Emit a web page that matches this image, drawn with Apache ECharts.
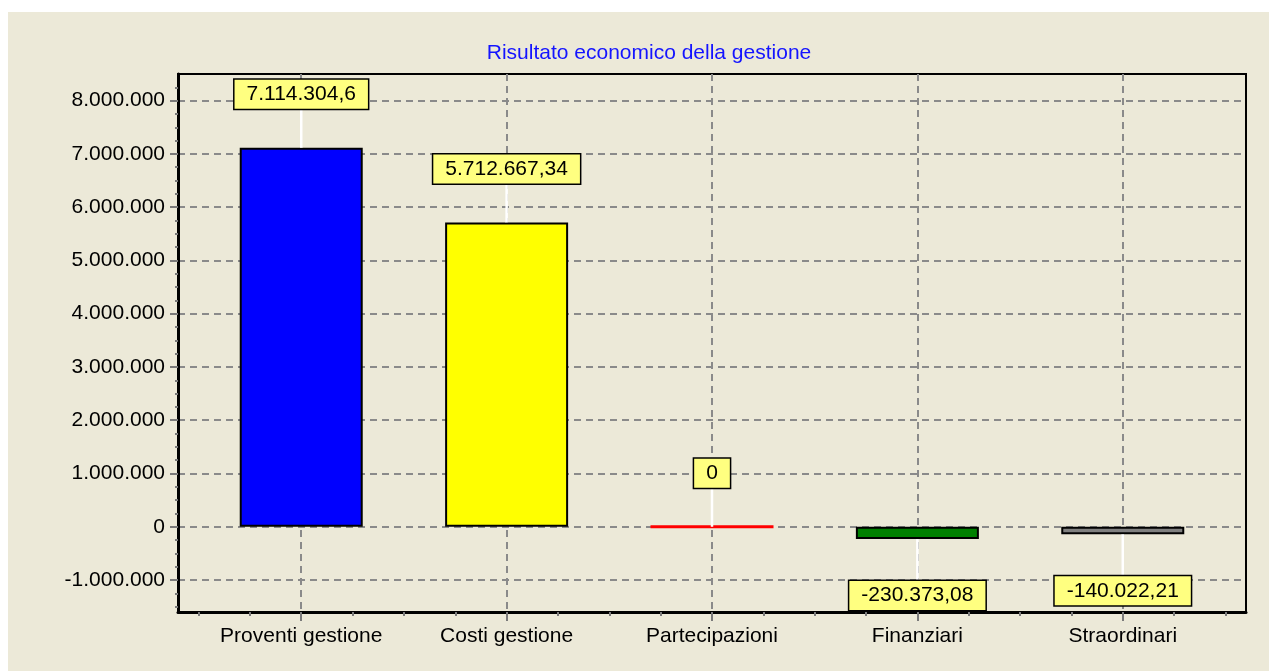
<!DOCTYPE html>
<html>
<head>
<meta charset="utf-8">
<title>Risultato economico della gestione</title>
<script src="https://cdn.jsdelivr.net/npm/echarts@6/dist/echarts.min.js"></script>
<style>
  html, body { margin: 0; padding: 0; background: #ffffff; width: 1269px; height: 671px; overflow: hidden; }
  #panel { position: absolute; left: 8px; top: 12px; right: 0; bottom: 0; background: #ECE9D8; }
  #chart { position: absolute; left: 0; top: 0; width: 1269px; height: 671px; }
</style>
</head>
<body>
<div id="panel"></div>
<div id="chart"></div>
<script>
// ---- data ----
const titleText = 'Risultato economico della gestione';
const categories = ['Proventi gestione', 'Costi gestione', 'Partecipazioni', 'Finanziari', 'Straordinari'];
const values = [7114304.6, 5712667.34, 0, -230373.08, -140022.21];
const barColors = ['#0000ff', '#ffff00', '#ff0000', '#008000', '#808080'];
const yTicks = [-1000000, 0, 1000000, 2000000, 3000000, 4000000, 5000000, 6000000, 7000000, 8000000];
const xTicks = [0, 1, 2, 3, 4];

// ---- axis ranges ----
const Y_MIN = -1600000, Y_MAX = 8500000, Y_MINOR = 250000;
const X_MIN = -0.6, X_MAX = 4.6, X_MINOR = 0.25;

// minor tick positions (quarters between the major ticks)
function minorTicks(min, max, step, majors) {
  const out = [];
  const start = Math.ceil(min / step) * step;
  for (let v = start; v <= max + 1e-9; v += step) {
    const r = Math.round(v / step) * step;
    if (!majors.some(m => Math.abs(m - r) < step / 10)) out.push(r);
  }
  return out;
}
const yMinor = minorTicks(Y_MIN, Y_MAX - 1, Y_MINOR, yTicks);
const xMinor = minorTicks(X_MIN, X_MAX, X_MINOR, xTicks);

// Italian number format: "." for thousands, "," for decimals
function fmtIt(v) {
  const neg = v < 0;
  const parts = Math.abs(v).toFixed(2).split('.');
  const intPart = parts[0].replace(/\B(?=(\d{3})+(?!\d))/g, '.');
  const dec = parts[1].replace(/0+$/, '');
  return (neg ? '-' : '') + intPart + (dec ? ',' + dec : '');
}

const FONT = '"Liberation Sans", Arial, sans-serif';
const gridLine = { show: true, lineStyle: { type: [7, 5], color: '#8a8a8a', width: 2 } };

const chart = echarts.init(document.getElementById('chart'), null, { renderer: 'canvas' });

chart.setOption({
  backgroundColor: 'transparent',
  animation: false,
  title: {
    text: titleText,
    left: 644,
    top: 38,
    textAlign: 'center',
    textStyle: { color: '#1414ff', fontSize: 21, fontWeight: 'normal', fontFamily: FONT }
  },
  grid: {
    left: 178, right: 23, top: 74, bottom: 59,
    show: true, borderColor: '#000', borderWidth: 2, backgroundColor: 'transparent'
  },
  xAxis: [
    {
      type: 'value', min: X_MIN, max: X_MAX, position: 'bottom',
      axisLine: { show: true, onZero: false, lineStyle: { color: '#000', width: 3 } },
      axisTick: { show: true, customValues: xTicks, length: 9, lineStyle: { color: '#7a7a7a', width: 2 } },
      axisLabel: {
        show: true, customValues: xTicks, margin: 14, color: '#000', fontSize: 21, fontFamily: FONT,
        formatter: v => categories[Math.round(v)] || ''
      },
      splitLine: gridLine
    },
    {
      type: 'value', min: X_MIN, max: X_MAX, position: 'bottom',
      axisLine: { show: false, onZero: false },
      axisTick: { show: true, customValues: xMinor, length: 4, lineStyle: { color: '#7a7a7a', width: 2 } },
      axisLabel: { show: false },
      splitLine: { show: false }
    }
  ],
  yAxis: [
    {
      type: 'value', min: Y_MIN, max: Y_MAX, position: 'left',
      axisLine: { show: true, onZero: false, lineStyle: { color: '#000', width: 3 } },
      axisTick: { show: true, customValues: yTicks, length: 8, lineStyle: { color: '#7a7a7a', width: 2 } },
      axisLabel: {
        show: true, customValues: yTicks, margin: 13, color: '#000', fontSize: 21, fontFamily: FONT,
        formatter: v => fmtIt(v)
      },
      splitLine: gridLine
    },
    {
      type: 'value', min: Y_MIN, max: Y_MAX, position: 'left',
      axisLine: { show: false, onZero: false },
      axisTick: { show: true, customValues: yMinor, length: 3, lineStyle: { color: '#7a7a7a', width: 2 } },
      axisLabel: { show: false },
      splitLine: { show: false }
    }
  ],
  series: [
    {
      type: 'bar',
      xAxisIndex: 0, yAxisIndex: 0,
      barWidth: 123,
      data: values.map((v, i) => ({
        value: [i, v],
        itemStyle: {
          color: barColors[i],
          borderColor: v === 0 ? barColors[i] : '#000',
          borderWidth: v === 0 ? 3 : 2
        }
      })),
      z: 3
    },
    {
      // value callouts: white leader line from the bar end to a yellow box
      type: 'custom',
      xAxisIndex: 0, yAxisIndex: 0,
      data: values.map((v, i) => [i, v]),
      z: 5,
      renderItem: function (params, api) {
        const x = api.value(0), v = api.value(1);
        const end = api.coord([x, v]);
        const up = v >= 0;
        const boxEdge = up ? end[1] - 39 : end[1] + 42;
        return {
          type: 'group',
          children: [
            {
              type: 'line',
              shape: { x1: end[0], y1: end[1], x2: end[0], y2: boxEdge },
              style: { stroke: '#ffffff', lineWidth: 2.5 }
            },
            {
              type: 'text',
              x: end[0], y: boxEdge,
              style: {
                text: fmtIt(v),
                font: '21px ' + FONT,
                fill: '#000',
                align: 'center',
                verticalAlign: up ? 'bottom' : 'top',
                lineHeight: 23,
                backgroundColor: '#ffff80',
                borderColor: '#000',
                borderWidth: 1.5,
                padding: [3, 12, 3, 12]
              }
            }
          ]
        };
      }
    }
  ]
});
</script>
</body>
</html>
